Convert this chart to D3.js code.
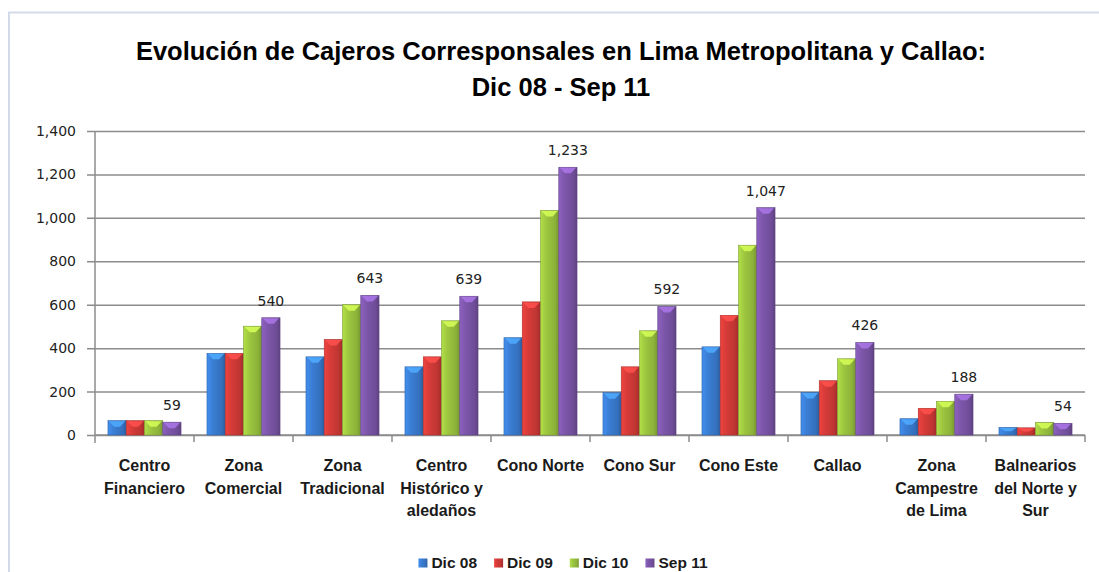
<!DOCTYPE html>
<html>
<head>
<meta charset="utf-8">
<script src="https://cdn.jsdelivr.net/npm/d3@7"></script>
<style>
  body { margin: 0; background: #fff; }
  svg { display: block; }
  .narrow { font-family: 'Liberation Sans Narrow', 'Arial Narrow', 'Liberation Sans', sans-serif; font-weight: bold; fill: #1a1a1a; }
  .num { font-family: 'DejaVu Sans', Verdana, sans-serif; font-size: 14px; fill: #222; }
  .grid line { stroke: #8c8c8c; stroke-width: 1.5; }
  .axis-line { stroke: #8c8c8c; stroke-width: 1.5; }
</style>
</head>
<body>
<svg width="1099" height="572"></svg>
<script>
const categories = [
  ['Centro', 'Financiero'],
  ['Zona', 'Comercial'],
  ['Zona', 'Tradicional'],
  ['Centro', 'Histórico y', 'aledaños'],
  ['Cono Norte'],
  ['Cono Sur'],
  ['Cono Este'],
  ['Callao'],
  ['Zona', 'Campestre', 'de Lima'],
  ['Balnearios', 'del Norte y', 'Sur']
]
const seriesNames = ['Dic 08', 'Dic 09', 'Dic 10', 'Sep 11']
const dic08 = [66, 376, 360, 314, 448, 195, 406, 196, 75, 35]
const dic09 = [66, 376, 440, 360, 613, 314, 551, 250, 123, 33]
const dic10 = [66, 501, 600, 526, 1034, 480, 874, 351, 155, 58]
const sep11 = [59, 540, 643, 639, 1233, 592, 1047, 426, 188, 54]
const yTicks = [0, 200, 400, 600, 800, 1000, 1200, 1400]
const colors = ['#3a7dd2', '#d43b38', '#9cc53f', '#7c56a9']

const svg = d3.select('svg')
const width = +svg.attr('width')
const height = +svg.attr('height')

const margin = { top: 131, right: 14, bottom: 137, left: 95 }
const innerWidth = width - margin.left - margin.right
const innerHeight = height - margin.top - margin.bottom

// chart frame (runs off the right and bottom)
svg.append('path')
  .attr('d', `M9,${height + 5} V12.5 H${width + 5}`)
  .attr('fill', 'none')
  .attr('stroke', '#d3dbe9')
  .attr('stroke-width', 2)

// gradients for the bar look
const defs = svg.append('defs')
colors.forEach((c, i) => {
  const grad = defs.append('linearGradient')
    .attr('id', 'g' + i)
    .attr('x1', 0).attr('x2', 1).attr('y1', 0).attr('y2', 0)
  grad.append('stop').attr('offset', 0).attr('stop-color', d3.color(c).brighter(0.35))
  grad.append('stop').attr('offset', 0.35).attr('stop-color', c)
  grad.append('stop').attr('offset', 0.8).attr('stop-color', d3.color(c).darker(0.3))
  grad.append('stop').attr('offset', 1).attr('stop-color', d3.color(c).darker(0.8))
})

const title = svg.append('text')
  .attr('class', 'narrow')
  .attr('text-anchor', 'middle')
  .style('font-size', '25.5px')
  .style('fill', '#000')
title.append('tspan').attr('x', 561).attr('y', 60).text('Evolución de Cajeros Corresponsales en Lima Metropolitana  y Callao:')
title.append('tspan').attr('x', 561).attr('y', 96).text('Dic 08 - Sep 11')

const data = categories.map((c, i) => ({
  name: c.join(' '),
  lines: c,
  values: [dic08[i], dic09[i], dic10[i], sep11[i]]
}))

const xScale = d3.scaleBand()
  .domain(data.map(d => d.name))
  .range([margin.left, margin.left + innerWidth])
  .padding(0)

const x1 = d3.scaleBand()
  .domain(seriesNames)
  .range([0, xScale.bandwidth()])
  .paddingInner(0)
  .paddingOuter(0.71)

const yScale = d3.scaleLinear()
  .domain([0, 1400])
  .range([margin.top + innerHeight, margin.top])

const y0 = yScale(0)

// gridlines (labels drawn separately)
const yAxis = d3.axisLeft(yScale)
  .tickValues(yTicks)
  .tickFormat('')
  .tickSize(-innerWidth)

const yAxisG = svg.append('g')
  .attr('class', 'grid')
  .attr('transform', `translate(${margin.left}, 0)`)
  .call(yAxis)
yAxisG.select('.domain').remove()
yAxisG.selectAll('.tick line').attr('x1', -8)

svg.selectAll('.ylabel')
  .data(yTicks)
  .enter()
  .append('text')
  .attr('class', 'num ylabel')
  .attr('text-anchor', 'end')
  .attr('x', margin.left - 19)
  .attr('y', d => yScale(d))
  .attr('dy', '0.36em')
  .text(d => d3.format(',')(d))

// axis lines and x ticks
svg.append('line').attr('class', 'axis-line')
  .attr('x1', margin.left).attr('x2', margin.left)
  .attr('y1', margin.top).attr('y2', y0 + 8)
svg.append('line').attr('class', 'axis-line')
  .attr('x1', margin.left).attr('x2', margin.left + innerWidth)
  .attr('y1', y0).attr('y2', y0)
svg.selectAll('.xtick')
  .data(data)
  .enter()
  .append('line')
  .attr('class', 'axis-line xtick')
  .attr('x1', d => xScale(d.name) + xScale.step())
  .attr('x2', d => xScale(d.name) + xScale.step())
  .attr('y1', y0)
  .attr('y2', y0 + 7)

// bars
const bars = data.flatMap(d => d.values.map((v, i) => ({ cat: d.name, series: seriesNames[i], i, v })))
const bx = d => xScale(d.cat) + x1(d.series)

const bar = svg.selectAll('.bar')
  .data(bars)
  .enter()
  .append('g')
  .attr('class', 'bar')

bar.append('rect')
  .attr('x', bx)
  .attr('y', d => yScale(d.v))
  .attr('width', x1.bandwidth())
  .attr('height', d => y0 - yScale(d.v))
  .attr('fill', d => `url(#g${d.i})`)
  .attr('stroke', d => d3.color(colors[d.i]).darker(0.6))
  .attr('stroke-width', 0.6)

bar.append('path')
  .attr('d', d => {
    const x = bx(d)
    const w = x1.bandwidth()
    const top = yScale(d.v)
    const cap = Math.min(6, (y0 - top) / 2)
    return `M${x + 1},${top + 0.5} H${x + w - 1} L${x + w / 2 + 3},${top + cap} H${x + w / 2 - 3} Z`
  })
  .attr('fill', d => d3.color(colors[d.i]).brighter(0.9))
  .attr('opacity', 0.85)

// value labels on the last series
svg.selectAll('.vlabel')
  .data(data)
  .enter()
  .append('text')
  .attr('class', 'num vlabel')
  .attr('text-anchor', 'middle')
  .attr('x', d => xScale(d.name) + x1('Sep 11') + x1.bandwidth() / 2)
  .attr('y', d => yScale(d.values[3]) - 12)
  .text(d => d3.format(',')(d.values[3]))

// category labels
const catText = svg.selectAll('.clabel')
  .data(data)
  .enter()
  .append('text')
  .attr('class', 'narrow clabel')
  .attr('text-anchor', 'middle')
  .style('font-size', '16px')
  .attr('x', d => xScale(d.name) + xScale.bandwidth() / 2)
  .attr('y', y0 + 36)
catText.selectAll('tspan')
  .data(d => d.lines.map(l => ({ l, x: xScale(d.name) + xScale.bandwidth() / 2 })))
  .enter()
  .append('tspan')
  .attr('x', d => d.x)
  .attr('y', (d, i) => y0 + 36 + i * 22.7)
  .text(d => d.l)

// legend
const legendY = 563
const legendText = svg.selectAll('.ltext')
  .data(seriesNames)
  .enter()
  .append('text')
  .attr('class', 'narrow ltext')
  .style('font-size', '15.5px')
  .attr('y', legendY)
  .attr('dy', '0.35em')
  .text(d => d)

const widths = []
legendText.each(function() {
  widths.push(13 + this.getComputedTextLength())
})
const gap = 17
const total = d3.sum(widths) + gap * (widths.length - 1)
const starts = []
let lx = 563 - total / 2
widths.forEach(w => { starts.push(lx); lx += w + gap })

legendText.attr('x', (d, i) => starts[i] + 13)
svg.selectAll('.lbox')
  .data(seriesNames)
  .enter()
  .append('rect')
  .attr('class', 'lbox')
  .attr('x', (d, i) => starts[i])
  .attr('y', legendY - 4.5)
  .attr('width', 9).attr('height', 9)
  .attr('fill', (d, i) => `url(#g${i})`)
</script>
</body>
</html>
